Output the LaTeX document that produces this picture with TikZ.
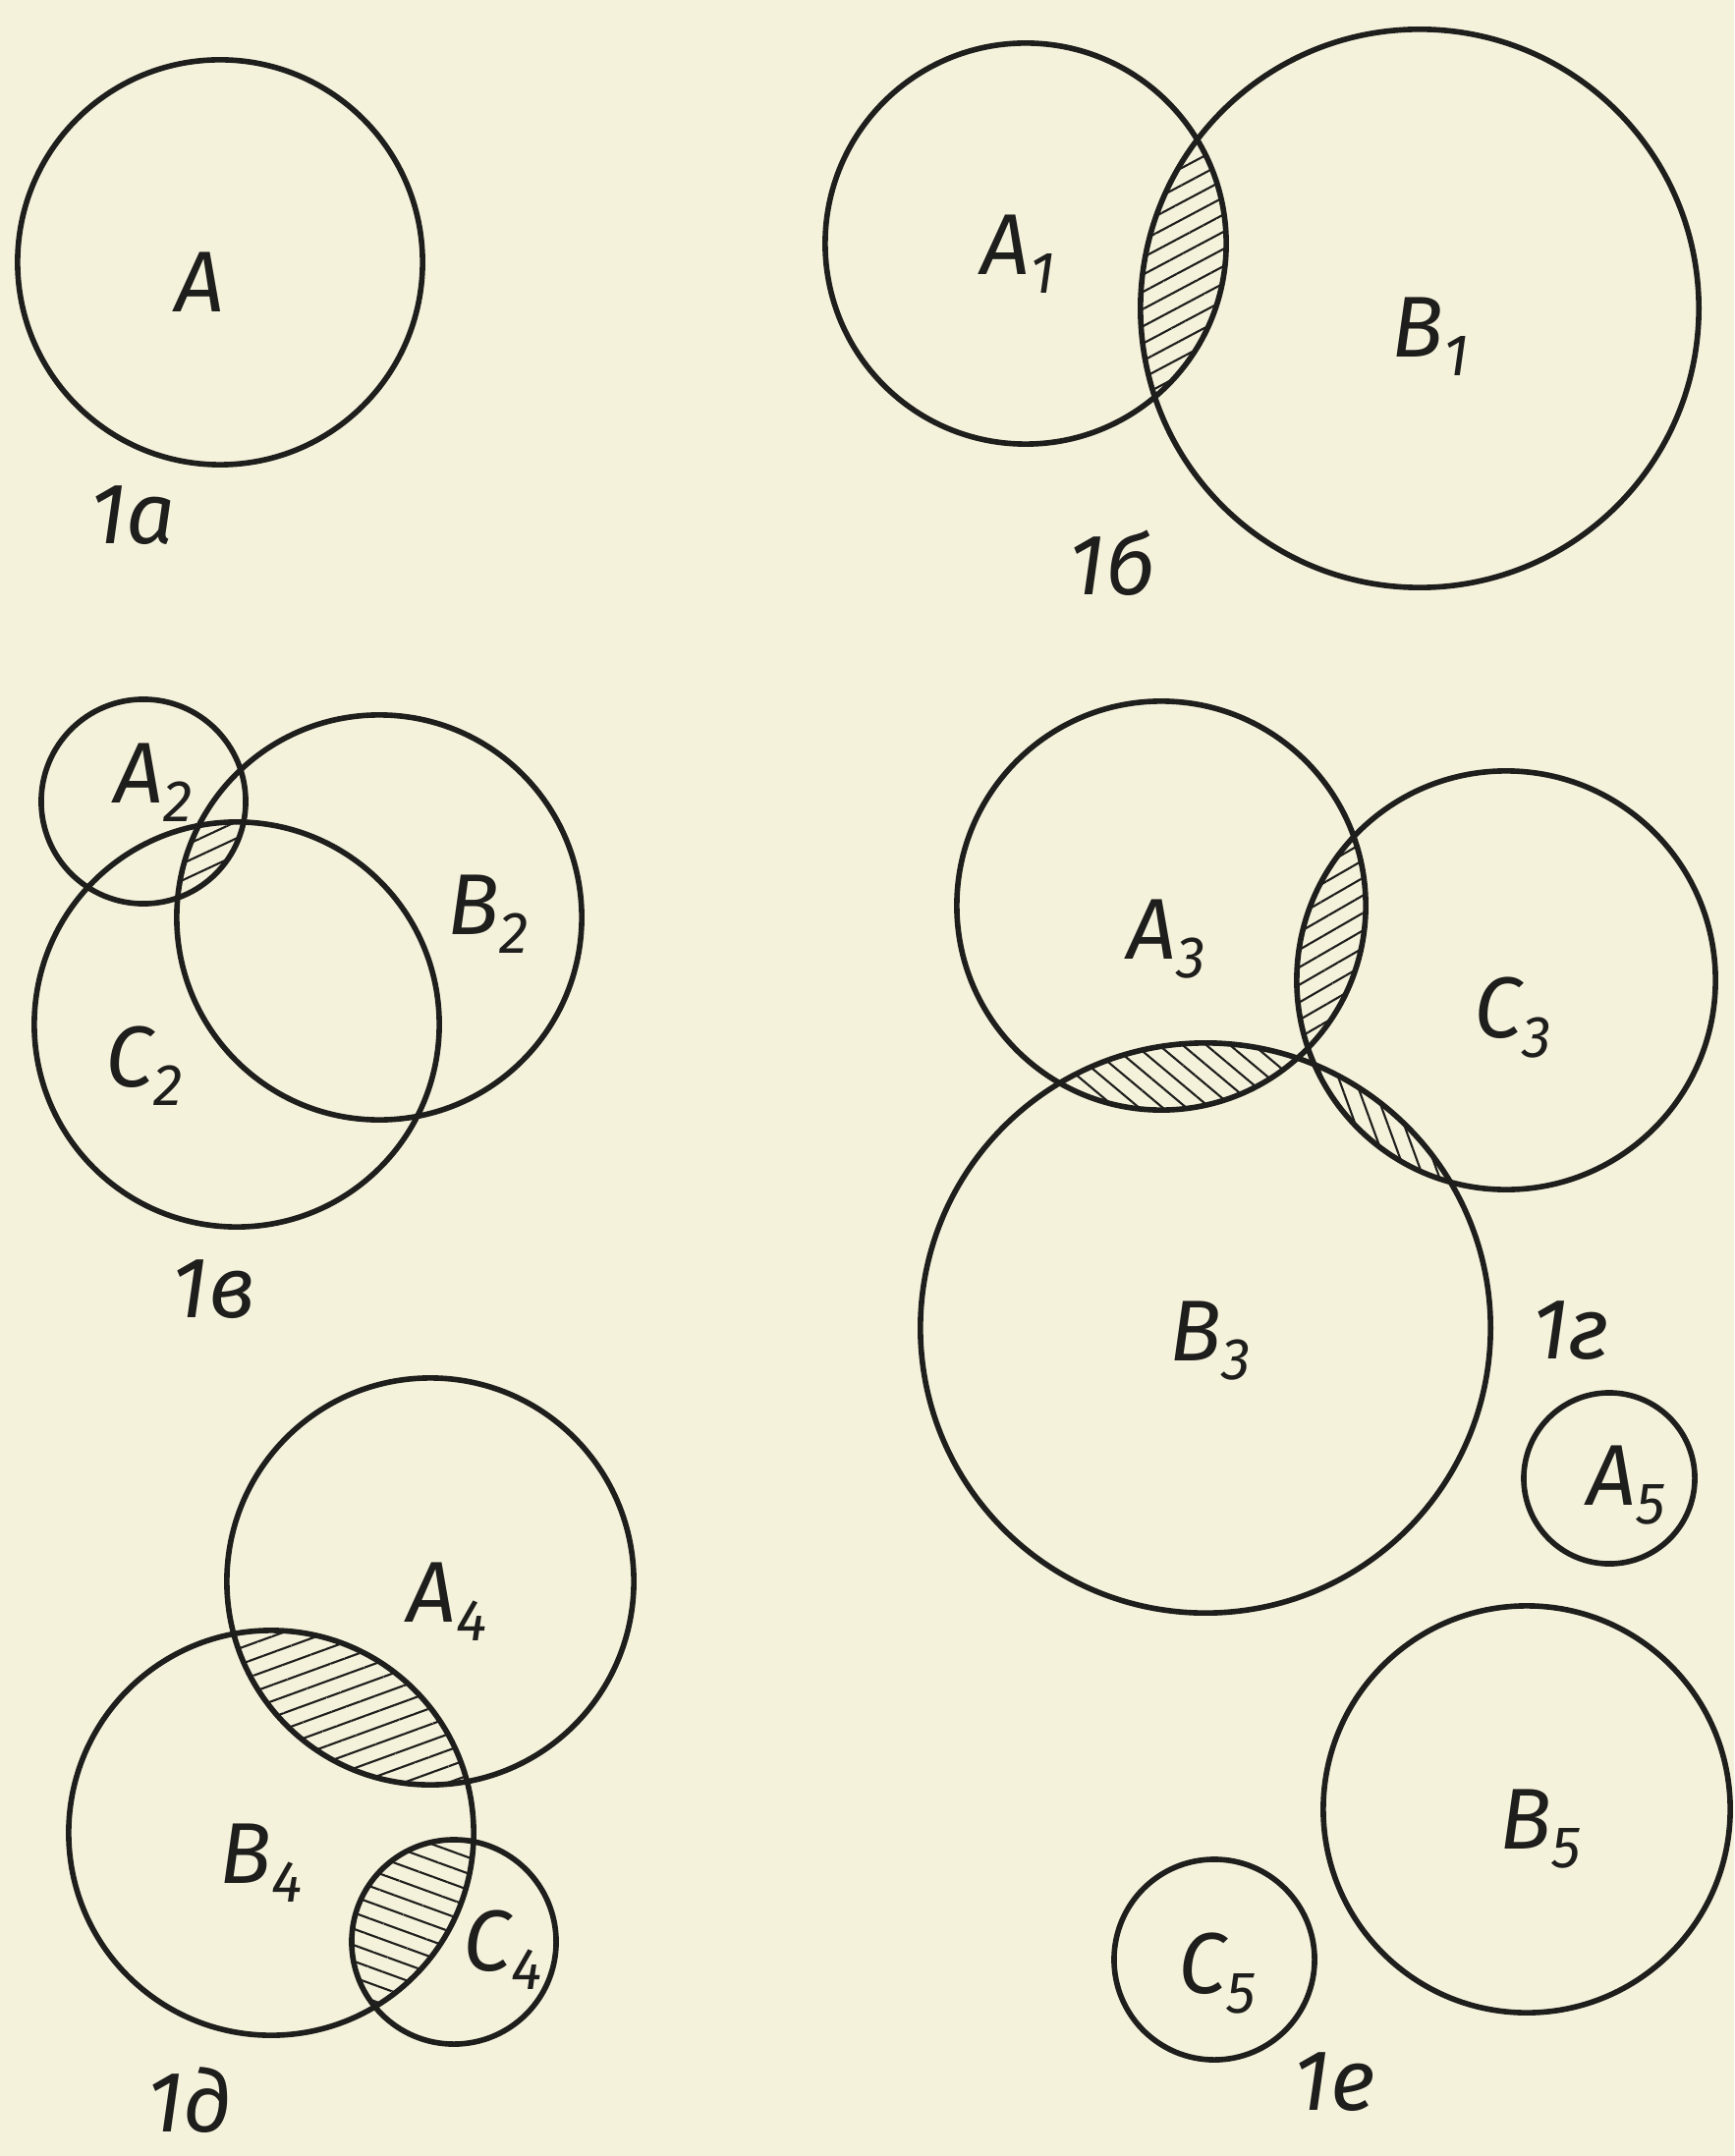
\documentclass[tikz,border=0pt]{standalone}
\usepackage{fontspec}
\newfontfamily\lbl{Fira Sans}
\usetikzlibrary{patterns.meta}

\definecolor{paper}{RGB}{245,242,220}
\definecolor{ink}{RGB}{30,30,28}

% lowered index after a set letter
\newcommand{\ix}[1]{\raisebox{-5.5pt}{\fontsize{17}{17}\selectfont #1}}

\begin{document}
\begin{tikzpicture}[
        x=0.01cm, y=-0.01cm,
        ring/.style={
            draw=ink,
            line width=1.6pt
        },
        tag/.style={
            text=ink,
            inner sep=0pt,
            font=\lbl\itshape\fontsize{25}{25}\selectfont
        },
        hatch/.style={
            pattern={Lines[angle=#1, distance=4.4pt, line width=0.6pt]},
            pattern color=ink
        }
    ]

    \fill[paper] (0,0) rectangle (1765,2195);
    \useasboundingbox (0,0) rectangle (1765,2195);

    % --------------------------------------------------------
    % Centres
    % --------------------------------------------------------

    \coordinate (oA) at (224,267);

    \coordinate (oA1) at (1044,248);
    \coordinate (oB1) at (1445,314);

    \coordinate (oA2) at (146,816);
    \coordinate (oB2) at (386,934);
    \coordinate (oC2) at (241,1043);

    \coordinate (oA3) at (1182,922);
    \coordinate (oB3) at (1227,1352);
    \coordinate (oC3) at (1533,998);

    \coordinate (oA4) at (438,1610);
    \coordinate (oB4) at (276,1866);
    \coordinate (oC4) at (462,1977);

    \coordinate (oA5) at (1638,1505);
    \coordinate (oB5) at (1554,1842);
    \coordinate (oC5) at (1236,1995);

    % --------------------------------------------------------
    % Hatched intersections
    % --------------------------------------------------------

    % 1b: A1 and B1
    \begin{scope}
        \clip (oA1) circle[radius=2.04cm];
        \fill[hatch=28] (oB1) circle[radius=2.84cm];
    \end{scope}

    % 1v: A2, B2 and C2
    \begin{scope}
        \clip (oA2) circle[radius=1.04cm];
        \clip (oB2) circle[radius=2.06cm];
        \fill[hatch=25] (oC2) circle[radius=2.06cm];
    \end{scope}

    % 1g: the three pairs
    \begin{scope}
        \clip (oA3) circle[radius=2.08cm];
        \fill[hatch=30] (oC3) circle[radius=2.13cm];
    \end{scope}
    \begin{scope}
        \clip (oA3) circle[radius=2.08cm];
        \fill[hatch=-40] (oB3) circle[radius=2.90cm];
    \end{scope}
    \begin{scope}
        \clip (oB3) circle[radius=2.90cm];
        \fill[hatch=-70] (oC3) circle[radius=2.13cm];
    \end{scope}

    % 1d: A4 and B4, B4 and C4
    \begin{scope}
        \clip (oA4) circle[radius=2.07cm];
        \fill[hatch=20] (oB4) circle[radius=2.06cm];
    \end{scope}
    \begin{scope}
        \clip (oB4) circle[radius=2.06cm];
        \fill[hatch=-20] (oC4) circle[radius=1.04cm];
    \end{scope}

    % --------------------------------------------------------
    % Circles
    % --------------------------------------------------------

    \draw[ring] (oA) circle[radius=2.06cm];

    \draw[ring] (oA1) circle[radius=2.04cm];
    \draw[ring] (oB1) circle[radius=2.84cm];

    \draw[ring] (oA2) circle[radius=1.04cm];
    \draw[ring] (oB2) circle[radius=2.06cm];
    \draw[ring] (oC2) circle[radius=2.06cm];

    \draw[ring] (oA3) circle[radius=2.08cm];
    \draw[ring] (oB3) circle[radius=2.90cm];
    \draw[ring] (oC3) circle[radius=2.13cm];

    \draw[ring] (oA4) circle[radius=2.07cm];
    \draw[ring] (oB4) circle[radius=2.06cm];
    \draw[ring] (oC4) circle[radius=1.04cm];

    \draw[ring] (oA5) circle[radius=0.87cm];
    \draw[ring] (oB5) circle[radius=2.07cm];
    \draw[ring] (oC5) circle[radius=1.02cm];

    % --------------------------------------------------------
    % Labels
    % --------------------------------------------------------

    \node[tag] (lA) at (203,287) {A};
    \node[tag] (fig1a) at (135,525) {1а};

    \node[tag] (lA1) at (1036,259) {A\ix{1}};
    \node[tag] (lB1) at (1456,343) {B\ix{1}};
    \node[tag] (fig1b) at (1132,573) {1б};

    \node[tag] (lA2) at (156,797) {A\ix{2}};
    \node[tag] (lB2) at (497,931) {B\ix{2}};
    \node[tag] (lC2) at (147,1085) {C\ix{2}};
    \node[tag] (fig1v) at (217,1313) {1в};

    \node[tag] (lA3) at (1187,956) {A\ix{3}};
    \node[tag] (lC3) at (1540,1036) {C\ix{3}};
    \node[tag] (lB3) at (1232,1365) {B\ix{3}};
    \node[tag] (fig1g) at (1599,1355) {1г};

    \node[tag] (lA4) at (455,1631) {A\ix{4}};
    \node[tag] (lB4) at (266,1897) {B\ix{4}};
    \node[tag] (lC4) at (512,1985) {C\ix{4}};
    \node[tag] (fig1d) at (193,2138) {1д};

    \node[tag] (lA5) at (1655,1512) {A\ix{5}};
    \node[tag] (lB5) at (1568,1862) {B\ix{5}};
    \node[tag] (lC5) at (1239,2009) {C\ix{5}};
    \node[tag] (fig1e) at (1358,2120) {1е};

\end{tikzpicture}
\end{document}
